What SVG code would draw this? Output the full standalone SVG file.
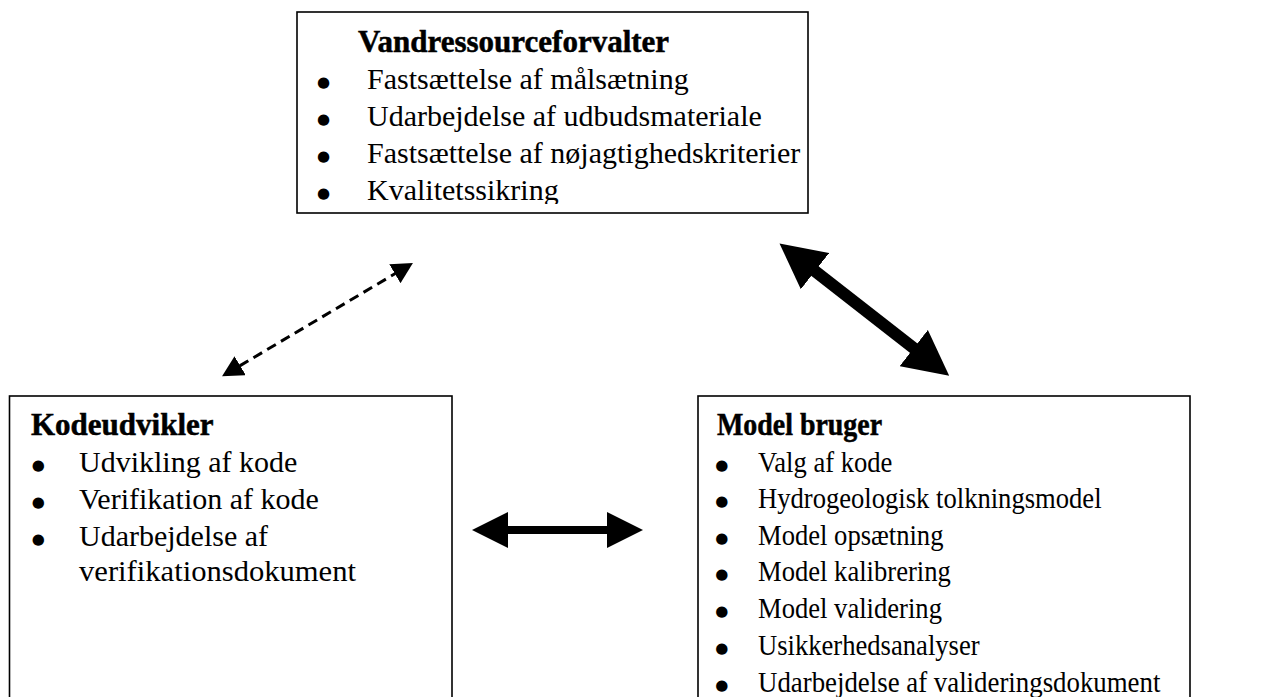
<svg xmlns="http://www.w3.org/2000/svg" width="1282" height="697" viewBox="0 0 1282 697">
  <style>
    .box { fill: #fff; stroke: #000; stroke-width: 1.6; }
    .title { font-family: "Liberation Serif", "Times New Roman", serif; font-weight: bold; font-size: 31px; fill: #000; stroke: #000; stroke-width: 0.5; }
    .item { font-family: "Liberation Serif", "Times New Roman", serif; font-size: 30px; fill: #000; }
    .bullet { font-family: "DejaVu Sans", sans-serif; font-size: 15px; fill: #000; text-anchor: middle; }
    .link { fill: none; stroke: #000; }
    .head { fill: #000; stroke: none; }
  </style>
  <defs>
    <clipPath id="top-clip">
      <rect x="297" y="12" width="511" height="192"/>
    </clipPath>
    <!-- arrowheads: base sits on the line end, tip points outward -->
    <marker id="head-small" markerUnits="userSpaceOnUse" viewBox="0 0 21 22" markerWidth="21" markerHeight="22" refX="0.5" refY="11" orient="auto-start-reverse">
      <path class="head" d="M0,0 L21,11 L0,22 Z"/>
    </marker>
    <marker id="head-large" markerUnits="userSpaceOnUse" viewBox="0 0 45 46" markerWidth="45" markerHeight="46" refX="1" refY="23" orient="auto-start-reverse">
      <path class="head" d="M0,0 L45,23 L0,46 Z"/>
    </marker>
    <marker id="head-medium" markerUnits="userSpaceOnUse" viewBox="0 0 36 36" markerWidth="36" markerHeight="36" refX="1" refY="18" orient="auto-start-reverse">
      <path class="head" d="M0,0 L36,18 L0,36 Z"/>
    </marker>
  </defs>

  <!-- water resource manager -->
  <g id="node-vandressourceforvalter">
    <rect class="box" x="297" y="12" width="511" height="201"/>
    <g clip-path="url(#top-clip)">
      <text class="title" x="358" y="52">Vandressourceforvalter</text>
      <text class="bullet" x="323.5" y="87">●</text>
      <text class="item" x="367" y="89">Fastsættelse af målsætning</text>
      <text class="bullet" x="323.5" y="124">●</text>
      <text class="item" x="367" y="126">Udarbejdelse af udbudsmateriale</text>
      <text class="bullet" x="323.5" y="161">●</text>
      <text class="item" x="367" y="163">Fastsættelse af nøjagtighedskriterier</text>
      <text class="bullet" x="323.5" y="198">●</text>
      <text class="item" x="367" y="200">Kvalitetssikring</text>
    </g>
  </g>

  <!-- code developer -->
  <g id="node-kodeudvikler">
    <rect class="box" x="9.5" y="396" width="442.5" height="320"/>
    <text class="title" x="31" y="435">Kodeudvikler</text>
    <text class="bullet" x="38.3" y="470">●</text>
    <text class="item" x="79" y="472">Udvikling af kode</text>
    <text class="bullet" x="38.3" y="507">●</text>
    <text class="item" x="79" y="509">Verifikation af kode</text>
    <text class="bullet" x="38.3" y="544">●</text>
    <text class="item" x="79" y="546">Udarbejdelse af</text>
    <text class="item" transform="translate(79,581) scale(1.02,1)">verifikationsdokument</text>
  </g>

  <!-- model user -->
  <g id="node-model-bruger">
    <rect class="box" x="698" y="396" width="492" height="320"/>
    <text class="title" transform="translate(717,435) scale(0.9,1)">Model bruger</text>
    <text class="bullet" x="721.7" y="470">●</text>
    <text class="item" transform="translate(758,472) scale(0.887,1)">Valg af kode</text>
    <text class="bullet" x="721.7" y="506">●</text>
    <text class="item" transform="translate(758,508) scale(0.887,1)">Hydrogeologisk tolkningsmodel</text>
    <text class="bullet" x="721.7" y="543">●</text>
    <text class="item" transform="translate(758,545) scale(0.887,1)">Model opsætning</text>
    <text class="bullet" x="721.7" y="579">●</text>
    <text class="item" transform="translate(758,581) scale(0.887,1)">Model kalibrering</text>
    <text class="bullet" x="721.7" y="616">●</text>
    <text class="item" transform="translate(758,618) scale(0.887,1)">Model validering</text>
    <text class="bullet" x="721.7" y="653">●</text>
    <text class="item" transform="translate(758,655) scale(0.887,1)">Usikkerhedsanalyser</text>
    <text class="bullet" x="721.7" y="690">●</text>
    <text class="item" transform="translate(758,692) scale(0.895,1)">Udarbejdelse af valideringsdokument</text>
  </g>

  <!-- connectors -->
  <g id="connectors">
    <line class="link" x1="239.7" y1="365.9" x2="395.3" y2="273.5" stroke-width="3" stroke-dasharray="10 6" marker-start="url(#head-small)" marker-end="url(#head-small)"/>
    <line class="link" x1="814.2" y1="270.5" x2="914.5" y2="348.7" stroke-width="12" marker-start="url(#head-large)" marker-end="url(#head-large)"/>
    <line class="link" x1="507" y1="530" x2="608" y2="530" stroke-width="8" marker-start="url(#head-medium)" marker-end="url(#head-medium)"/>
  </g>
</svg>
